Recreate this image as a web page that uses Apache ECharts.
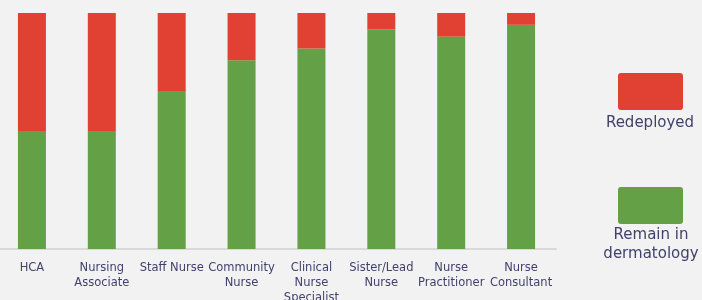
<!DOCTYPE html>
<html>
<head>
<meta charset="utf-8">
<script src="https://cdn.jsdelivr.net/npm/echarts@6/dist/echarts.min.js"></script>
<style>
  html, body { margin: 0; padding: 0; background: #f2f2f2; }
  #chart { width: 702px; height: 300px; }
</style>
</head>
<body>
<div id="chart"></div>
<script>
// 岗位类别
var categories = ['HCA', 'Nursing\nAssociate', 'Staff Nurse', 'Community\nNurse',
    'Clinical\nNurse\nSpecialist', 'Sister/Lead\nNurse', 'Nurse\nPractitioner', 'Nurse\nConsultant'];
// 百分比 (%)
var remainValues = [50, 50, 67, 80, 85, 93, 90, 95];
var redeployedValues = [50, 50, 33, 20, 15, 7, 10, 5];

var textColor = '#42416c';

var myChart = echarts.init(document.getElementById('chart'));
var option = {
    backgroundColor: '#f2f2f2',
    animation: false,
    textStyle: { fontFamily: 'DejaVu Sans' },
    grid: { left: -3, right: 146, top: 13, bottom: 51, outerBoundsMode: 'none', containLabel: false },
    legend: {
        orient: 'vertical',
        left: 618,
        top: 73,
        padding: 0,
        itemWidth: 65,
        itemHeight: 37,
        itemGap: 77,
        icon: 'path://M3,0 H62 Q65,0 65,3 V34 Q65,37 62,37 H3 Q0,37 0,34 V3 Q0,0 3,0 Z',
        formatter: function () { return ''; },
        data: ['Redeployed', 'Remain in dermatology']
    },
    xAxis: {
        type: 'category',
        data: categories,
        axisLine: { lineStyle: { color: '#d9d9d9', width: 2 } },
        axisTick: { show: false },
        axisLabel: {
            interval: 0,
            color: textColor,
            fontSize: 11.5,
            lineHeight: 15,
            margin: 12
        }
    },
    yAxis: {
        type: 'value',
        min: 0,
        max: 100,
        show: false
    },
    series: [
        {
            name: 'Remain in dermatology',
            type: 'bar',
            stack: 'total',
            barWidth: 28,
            itemStyle: { color: '#63a046' },
            data: remainValues
        },
        {
            name: 'Redeployed',
            type: 'bar',
            stack: 'total',
            barWidth: 28,
            itemStyle: { color: '#e04133' },
            data: redeployedValues
        }
    ],
    graphic: [
        {
            type: 'text', x: 650, y: 123,
            style: { text: 'Redeployed', fill: textColor, font: '15px DejaVu Sans',
                align: 'center', verticalAlign: 'middle' }
        },
        {
            type: 'text', x: 651, y: 245,
            style: { text: 'Remain in\ndermatology', fill: textColor, font: '15px DejaVu Sans',
                align: 'center', verticalAlign: 'middle', lineHeight: 19 }
        }
    ]
};
myChart.setOption(option);
</script>
</body>
</html>
